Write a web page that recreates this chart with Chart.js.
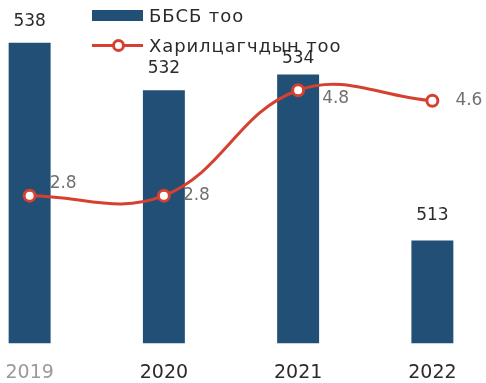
<!DOCTYPE html>
<html>
<head>
<meta charset="utf-8">
<script src="https://cdn.jsdelivr.net/npm/chart.js@4"></script>
<style>
  html, body { margin: 0; padding: 0; background: #fff; overflow: hidden; }
  #wrap { position: relative; width: 486px; height: 383px; overflow: hidden; }
  #box { position: absolute; left: -46px; top: 0; width: 554px; height: 394px; }
  #legend { position: absolute; left: 92px; top: 5px; font-family: "DejaVu Sans", sans-serif; font-size: 18px; letter-spacing: 0.9px; color: #2b2b2b; }
  #legend div { display: flex; align-items: center; height: 20px; margin-bottom: 10px; }
  #legend .sw { width: 51px; height: 11px; margin-right: 6px; }
  #legend .ln { position: relative; width: 51px; height: 3px; margin-right: 6px; }
  #legend .ln span { position: absolute; left: 20px; top: -5px; width: 7px; height: 7px; border-radius: 50%; background: #fff; border: 3px solid #d64030; }
</style>
</head>
<body>
<div id="wrap">
  <div id="box"><canvas id="chart"></canvas></div>
  <div id="legend"></div>
</div>
<script>
const years = ['2019', '2020', '2021', '2022'];
const bbsb = [538, 532, 534, 513];
const customers = [2.8, 2.8, 4.8, 4.6];
const barLabel = 'ББСБ тоо';
const lineLabel = 'Харилцагчдын тоо';

const barColor = '#214f75';
const lineColor = '#d64030';

// value labels drawn next to each element
const valueLabels = {
  id: 'valueLabels',
  afterDatasetsDraw(chart) {
    const ctx = chart.ctx;
    ctx.save();
    ctx.font = '17px "DejaVu Sans", sans-serif';
    ctx.textBaseline = 'middle';
    const barOffs = [21, 22, 16, 25];
    chart.getDatasetMeta(0).data.forEach((bar, i) => {
      ctx.fillStyle = '#2b2b2b';
      ctx.textAlign = 'center';
      ctx.fillText(bbsb[i], bar.x, bar.y - barOffs[i]);
    });
    const offs = [[20, -12], [19, 0], [24, 8], [23, 0]];
    chart.getDatasetMeta(1).data.forEach((pt, i) => {
      ctx.fillStyle = '#707070';
      ctx.textAlign = 'left';
      ctx.fillText(customers[i].toFixed(1), pt.x + offs[i][0], pt.y + offs[i][1]);
    });
    ctx.restore();
  }
};

const chart = new Chart(document.getElementById('chart'), {
  data: {
    labels: years,
    datasets: [
      {
        type: 'bar',
        label: barLabel,
        data: bbsb,
        backgroundColor: barColor,
        yAxisID: 'y',
        barPercentage: 0.625,
        categoryPercentage: 0.5,
        order: 2
      },
      {
        type: 'line',
        label: lineLabel,
        data: customers,
        borderColor: lineColor,
        borderWidth: 3,
        tension: 0.4,
        pointRadius: 5.5,
        pointBorderWidth: 3,
        pointBackgroundColor: '#fff',
        pointBorderColor: lineColor,
        yAxisID: 'y1',
        order: 1
      }
    ]
  },
  options: {
    responsive: true,
    maintainAspectRatio: false,
    animation: false,
    layout: { padding: { top: 27, left: 0, right: 0, bottom: 0 } },
    plugins: {
      legend: { display: false },
      tooltip: { enabled: false }
    },
    scales: {
      x: {
        grid: { display: false },
        border: { display: false },
        ticks: {
          padding: 10,
          font: { family: 'DejaVu Sans', size: 19 },
          color: ctx => ctx.index === 0 ? '#9a9a9a' : '#2b2b2b'
        }
      },
      y: {
        display: false,
        min: 500,
        max: 540
      },
      y1: {
        display: false,
        min: 0,
        max: 6
      }
    }
  },
  plugins: [valueLabels]
});

// legend
const lg = document.getElementById('legend');
lg.innerHTML =
  '<div><span class="sw" style="background:' + barColor + '"></span>' + barLabel + '</div>' +
  '<div><span class="ln" style="background:' + lineColor + '"><span></span></span>' + lineLabel + '</div>';
</script>
</body>
</html>
